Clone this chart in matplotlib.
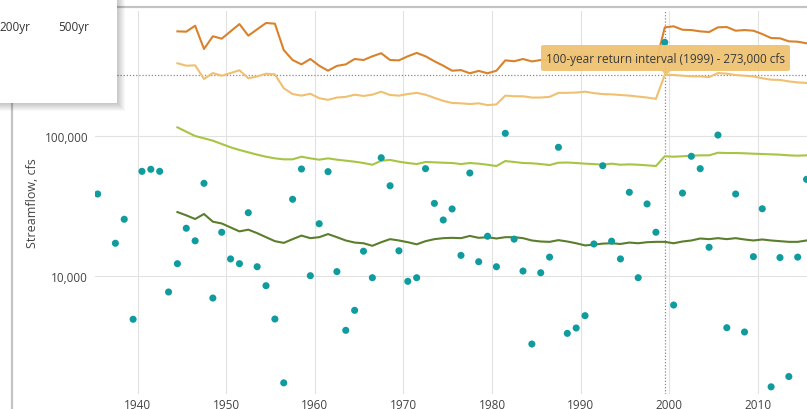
import numpy as np
import matplotlib
matplotlib.use("Agg")
import matplotlib.pyplot as plt
from matplotlib.patches import FancyBboxPatch, Rectangle, Polygon
from matplotlib.lines import Line2D
from matplotlib.ticker import NullLocator, FixedLocator

plt.rcParams['font.family'] = ['Open Sans', 'DejaVu Sans']

# ---------------- data ----------------
peak_years = [1935] + list(range(1937, 2016))
peak_cfs = [38600, 17200, 25500, 4940, 56000, 57900, 56000, 7730, 12300, 22000,
            17900, 46000, 7000, 20600, 13300, 12300, 28400, 11700, 8570, 4960,
            1740, 35400, 58200, 10100, 23700, 55700, 10800, 4120, 5720, 15100,
            9770, 70000, 44200, 15200, 9210, 9770, 58500, 33100, 25200, 30200,
            14100, 54500, 12700, 19300, 11700, 104500, 18400, 10900, 3290, 10600,
            13700, 83100, 3920, 4280, 5240, 17000, 61400, 17800, 13300, 39700,
            9770, 32800, 20600, 465000, 6240, 39200, 71700, 58500, 16100, 101600,
            4300, 38600, 4010, 13800, 30300, 1630, 13600, 1930, 13700, 49100]

ri_years = list(range(1944, 2016))
ri_500yr = [557000, 554000, 611000, 417000, 514000, 494000, 557000, 628000, 519000, 576000,
            639000, 632000, 410000, 348000, 324000, 354000, 317000, 292000, 316000, 324000,
            354000, 348000, 370000, 389000, 348000, 346000, 370000, 391000, 370000, 341000,
            317000, 292000, 295000, 280000, 291000, 280000, 292000, 346000, 341000, 354000,
            340000, 348000, 348000, 366000, 366000, 372000, 378000, 366000, 360000, 354000,
            354000, 348000, 342000, 337000, 331000, 595000, 605000, 572000, 569000, 557000,
            551000, 595000, 598000, 563000, 569000, 563000, 533000, 499000, 497000, 473000,
            470000, 458000]
ri_100yr = [330000, 317000, 319000, 255000, 281000, 269000, 281000, 294000, 258000, 266000,
            278000, 275000, 219000, 199000, 194000, 200000, 186000, 181000, 188000, 190000,
            197000, 193000, 197000, 207000, 196000, 194000, 199000, 203000, 197000, 187000,
            178000, 172000, 171000, 169000, 171000, 166000, 168000, 194000, 192000, 192000,
            188000, 188000, 190000, 203000, 203000, 204000, 207000, 202000, 199000, 198000,
            196000, 194000, 191000, 188000, 184000, 273000, 272000, 269000, 266000, 266000,
            263000, 281000, 278000, 272000, 269000, 266000, 258000, 252000, 251000, 245000,
            241000, 239000]
ri_10yr = [115300, 107300, 100000, 96300, 92600, 87700, 83100, 79500, 76500, 73600,
           71200, 69300, 68200, 68200, 71200, 69300, 67800, 69300, 67800, 66700,
           65600, 64200, 62400, 66700, 67500, 65600, 64200, 63100, 65300, 64900,
           64500, 64200, 63100, 64200, 63500, 62400, 61100, 66300, 65300, 64200,
           63900, 63100, 62100, 64500, 64700, 64200, 63500, 63100, 62400, 63500,
           62400, 62800, 62400, 61800, 61100, 71700, 71200, 71700, 72400, 72800,
           72800, 76000, 75600, 75600, 75300, 74800, 74400, 74000, 73600, 72800,
           72400, 72800]
ri_2yr = [28700, 27200, 25600, 27800, 24500, 23800, 22300, 20900, 21500, 20300,
          19000, 17800, 17300, 18400, 19500, 18700, 19000, 20000, 19000, 18000,
          17400, 17200, 16500, 17500, 18400, 18000, 17500, 16900, 17800, 18400,
          18700, 18800, 18700, 19400, 18800, 19000, 18600, 19000, 19000, 18700,
          18000, 17700, 17600, 18100, 17700, 17200, 16600, 16800, 17100, 17200,
          17000, 17400, 17200, 17500, 17600, 17600, 17200, 17700, 18000, 18600,
          18400, 18700, 18400, 18700, 18300, 18000, 18300, 18000, 17800, 17600,
          17600, 18000]

x_ticks = [1940, 1950, 1960, 1970, 1980, 1990, 2000, 2010]
y_ticks = [10000, 100000]
y_tick_labels = ['10,000', '100,000']
legend_labels = ['200yr', '500yr']
hover_year = 1999
hover_value = 273000
tooltip_text = '100-year return interval (1999) - 273,000 cfs'
y_label = 'Streamflow, cfs'

# ---------------- figure ----------------
W, H = 807, 410
fig = plt.figure(figsize=(W / 100, H / 100), dpi=100)
fig.patch.set_facecolor('white')

def fx(px):
    return px / W

def fy(py):
    return 1 - py / H

ax = fig.add_axes([fx(95), fy(395), fx(807) - fx(95), fy(12) - fy(395)])
ax.set_facecolor('white')
ax.set_yscale('log')
ax.set_xlim(1935.2, 2015.55)
ax.set_ylim(1449, 778000)

ax.yaxis.set_major_locator(FixedLocator(y_ticks))
ax.set_yticklabels(y_tick_labels)
ax.yaxis.set_minor_locator(NullLocator())
ax.set_xticks(x_ticks)
ax.set_xticklabels([str(t) for t in x_ticks])
ax.grid(True, color='#e2e2e2', lw=0.8)
ax.set_axisbelow(True)
ax.tick_params(length=0, labelsize=8.5, colors='#444444')
ax.tick_params(axis='x', pad=3)
ax.tick_params(axis='y', pad=5)
for s in ax.spines.values():
    s.set_visible(False)

off = 0.5
rx = np.array(ri_years) + off
ax.plot(rx, ri_500yr, color='#D8822C', lw=1.5, zorder=3)
ax.plot(rx, ri_100yr, color='#F0C070', lw=1.5, zorder=3)
ax.plot(rx, ri_10yr, color='#A6C544', lw=1.5, zorder=3)
ax.plot(rx, ri_2yr, color='#5A7E2C', lw=1.5, zorder=3)

ax.scatter(np.array(peak_years) + off, peak_cfs, s=26, color='#109C9E',
           edgecolors='none', zorder=4)

# crosshair
ax.axhline(hover_value, color='#8a8a8a', lw=0.9, ls=(0, (1, 1.5)), zorder=2)
ax.axvline(hover_year + off, color='#8a8a8a', lw=0.9, ls=(0, (1, 1.5)), zorder=2)

fig.text(fx(33), fy(203), y_label, rotation=90, ha='center', va='center',
         fontsize=9, color='#444444')

# panel frame
fig.add_artist(Line2D([fx(12), fx(12)], [0, 1], color='#c3c3c3', lw=1.6,
                      transform=fig.transFigure, zorder=5))
fig.add_artist(Line2D([0, 1], [fy(8), fy(8)], color='#c3c3c3', lw=1.6,
                      transform=fig.transFigure, zorder=5))

# tooltip
tb = FancyBboxPatch((fx(541), fy(72)), fx(790) - fx(541), fy(46) - fy(72),
                    boxstyle='round,pad=0,rounding_size=0.004',
                    transform=fig.transFigure, facecolor='#EFC272',
                    edgecolor='none', alpha=0.95, zorder=10)
fig.add_artist(tb)
fig.add_artist(Polygon([[fx(662), fy(72)], [fx(670), fy(72)], [fx(666), fy(77)]],
                       closed=True, transform=fig.transFigure,
                       facecolor='#EFC272', edgecolor='none', alpha=0.95, zorder=10))
fig.text(fx(665.5), fy(59.5), tooltip_text, ha='center', va='center',
         fontsize=8.5, color='#3a3a3a', zorder=11)

# legend popup with shadow
for i in range(1, 9):
    fig.add_artist(Rectangle((0, fy(104 + i)), fx(117 + i), 1 - fy(104 + i),
                             transform=fig.transFigure, facecolor='black',
                             edgecolor='none', alpha=0.028, zorder=12))
fig.add_artist(Rectangle((0, fy(104)), fx(117), 1 - fy(104),
                         transform=fig.transFigure, facecolor='white',
                         edgecolor='none', zorder=13))
fig.text(fx(-1), fy(28), legend_labels[0], ha='left', va='center', fontsize=8.5,
         color='#333333', zorder=14)
fig.text(fx(58), fy(28), legend_labels[1], ha='left', va='center', fontsize=8.5,
         color='#333333', zorder=14)

fig.savefig('out.png', dpi=100)
